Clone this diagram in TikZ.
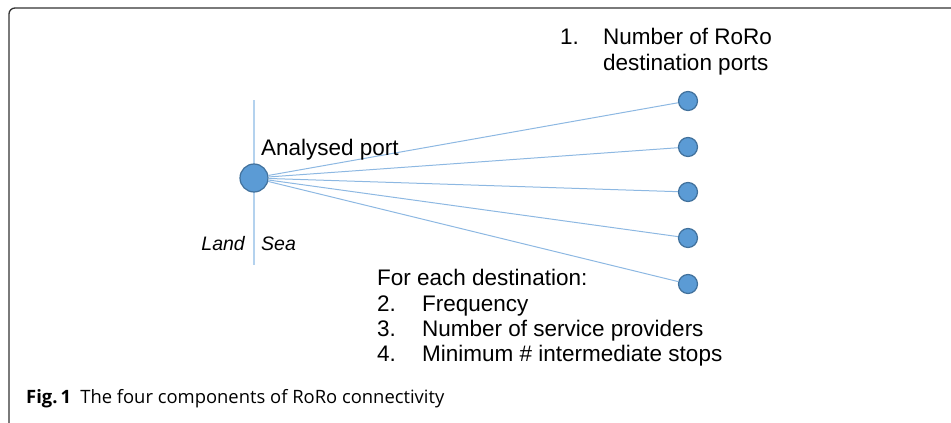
\documentclass[tikz,border=0pt]{standalone}
\usepackage{fontspec}
\setmainfont{Liberation Sans}
\newfontfamily\capfont{Open Sans}
\usetikzlibrary{positioning}

\definecolor{portfill}{HTML}{5B9BD5}
\definecolor{portdraw}{HTML}{41719C}
\definecolor{linkblue}{HTML}{8DB8E2}
\definecolor{shoreblue}{HTML}{B4D2EE}
\definecolor{framegray}{HTML}{333333}

\tikzset{
  port/.style={circle, fill=portfill, draw=portdraw, line width=1.2pt, inner sep=0pt},
  lbl/.style={inner sep=0pt, anchor=base west, font=\fontsize{22.5}{26}\selectfont},
  side/.style={inner sep=0pt, anchor=base west, font=\fontsize{19.5}{23}\selectfont\itshape},
  link/.style={draw=linkblue, line width=1pt},
}

\begin{document}
\begin{tikzpicture}[x=1pt,y=-1pt]
\useasboundingbox (0,0) rectangle (951,423);
\draw[framegray, line width=1.3pt, rounded corners=6pt] (9,423) -- (9,8) -- (951,8);

% coast line
\coordinate (shoreN) at (254,100);
\coordinate (shoreS) at (254,265);
\draw[shoreblue, line width=1.2pt] (shoreN) -- (shoreS);

\node[port, minimum size=28pt] (port) at (254,178) {};
\node[port, minimum size=19pt] (d1) at (688,101) {};
\node[port, minimum size=19pt] (d2) at (688,147) {};
\node[port, minimum size=19pt] (d3) at (688,192) {};
\node[port, minimum size=19pt] (d4) at (688,238) {};
\node[port, minimum size=19pt] (d5) at (688,284) {};

\draw[link] (port) -- (d1);
\draw[link] (port) -- (d2);
\draw[link] (port) -- (d3);
\draw[link] (port) -- (d4);
\draw[link] (port) -- (d5);

\node[lbl] (portname) at (261,155) {Analysed port};
\node[side, anchor=base east] (land) at (245,250) {Land};
\node[side] (sea) at (261,250) {Sea};

\node[lbl] (n1) at (560,44) {1.};
\node[lbl] (t1) at (603,44) {Number of RoRo};
\node[lbl] (t1b) at (603,70) {destination ports};

\node[lbl] (each) at (377,285) {For each destination:};
\node[lbl] (n2) at (377,311) {2.};
\node[lbl] (t2) at (422,311) {Frequency};
\node[lbl] (n3) at (377,336) {3.};
\node[lbl] (t3) at (422,336) {Number of service providers};
\node[lbl] (n4) at (377,361) {4.};
\node[lbl] (t4) at (422,361) {Minimum \# intermediate stops};

\node[inner sep=0pt, anchor=base west, font=\capfont\fontsize{18.4}{22}\selectfont] (caption) at (26,403)
  {\textbf{Fig.\,1}\hspace{0.5em}The four components of RoRo connectivity};
\end{tikzpicture}
\end{document}
